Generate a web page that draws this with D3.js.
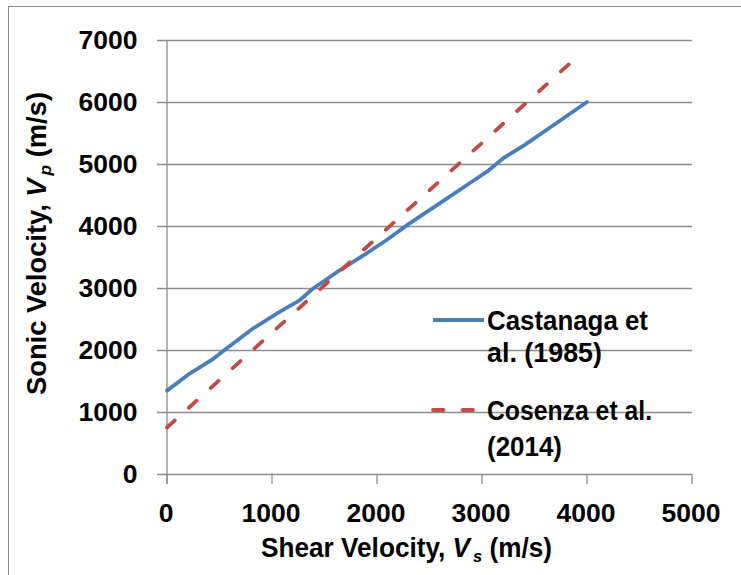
<!DOCTYPE html>
<html><head><meta charset="utf-8">
<script src="https://cdn.jsdelivr.net/npm/d3@7"></script>
<style>
html,body{margin:0;padding:0;background:#fff;}
svg{display:block;}
text{font-family:"Liberation Sans",Arial,sans-serif;font-weight:bold;fill:#000;}
</style></head>
<body>
<svg id="chart" width="741" height="575"></svg>
<script>
// ---- data ----
const xTicks = [0, 1000, 2000, 3000, 4000, 5000];
const yTicks = [0, 1000, 2000, 3000, 4000, 5000, 6000, 7000];
const castagnaVs = [0, 220, 426, 570, 822, 1076, 1267, 1378, 1648, 1902, 2092, 2300, 2600, 2900, 3050, 3200, 3400, 3700, 4000];
const castagnaVp = [1345, 1624, 1839, 2027, 2350, 2618, 2806, 2975, 3290, 3560, 3774, 4030, 4370, 4710, 4880, 5090, 5300, 5650, 6000];
const cosenzaVs = [0, 3920];
const cosenzaVp = [750, 6750];
const seriesNames = [["Castanaga et", "al. (1985)"], ["Cosenza et al.", "(2014)"]];
const seriesColors = ["#4a7ebb", "#be4b48"];

const svg = d3.select("#chart");
const x = d3.scaleLinear().domain([0, 5000]).range([167, 692]);
const y = d3.scaleLinear().domain([0, 7000]).range([474, 40]);
const gridColor = "#8c8c8c";

// outer border
svg.append("rect").attr("x", 8.5).attr("y", 6.5).attr("width", 760).attr("height", 600)
  .attr("fill", "none").attr("stroke", "#8c8c8c").attr("stroke-width", 1);

// horizontal gridlines (with left tick)
svg.append("g").selectAll("line").data(yTicks).join("line")
  .attr("x1", 157).attr("x2", x(5000))
  .attr("y1", d => Math.round(y(d)) + 0.5).attr("y2", d => Math.round(y(d)) + 0.5)
  .attr("stroke", gridColor).attr("stroke-width", 1.3);

// vertical axis line
svg.append("line").attr("x1", x(0)).attr("x2", x(0)).attr("y1", y(7000)).attr("y2", y(0) + 10)
  .attr("stroke", gridColor).attr("stroke-width", 1.3);

// x ticks
svg.append("g").selectAll("line").data(xTicks).join("line")
  .attr("x1", d => x(d)).attr("x2", d => x(d)).attr("y1", y(0)).attr("y2", y(0) + 10)
  .attr("stroke", gridColor).attr("stroke-width", 1.3);

// y tick labels
svg.append("g").selectAll("text").data(yTicks).join("text")
  .attr("x", 137.5).attr("y", d => y(d) + 9)
  .attr("text-anchor", "end").attr("font-size", 26.5)
  .text(d => d);

// x tick labels
svg.append("g").selectAll("text").data(xTicks).join("text")
  .attr("x", d => x(d) - 1).attr("y", 521.5)
  .attr("text-anchor", "middle").attr("font-size", 26.5)
  .text(d => d);

// x axis title
const xt = svg.append("text").attr("x", 261).attr("y", 556.5).attr("font-size", 27)
  .attr("textLength", 291).attr("lengthAdjust", "spacingAndGlyphs");
xt.append("tspan").text("Shear Velocity, ");
xt.append("tspan").attr("font-style", "italic").text("V");
xt.append("tspan").attr("font-style", "italic").attr("font-size", 17).attr("dx", 3).attr("dy", 5).text("s");
xt.append("tspan").attr("dy", -5).text(" (m/s)");

// y axis title
const yt = svg.append("text").attr("transform", "translate(46,395) rotate(-90)")
  .attr("x", 0).attr("y", 0).attr("font-size", 27)
  .attr("textLength", 303).attr("lengthAdjust", "spacingAndGlyphs");
yt.append("tspan").text("Sonic Velocity,  ");
yt.append("tspan").attr("font-style", "italic").text("V");
yt.append("tspan").attr("font-style", "italic").attr("font-size", 17).attr("dx", 3).attr("dy", 5).text("p");
yt.append("tspan").attr("dy", -5).text(" (m/s)");

// lines
const line = d3.line().x(d => x(d[0])).y(d => y(d[1]));
const castagna = castagnaVs.map((v, i) => [v, castagnaVp[i]]);
const cosenza = cosenzaVs.map((v, i) => [v, cosenzaVp[i]]);

svg.append("path").datum(castagna).attr("d", line)
  .attr("fill", "none").attr("stroke", seriesColors[0]).attr("stroke-width", 3.8)
  .attr("stroke-linejoin", "round").attr("stroke-linecap", "round");
svg.append("path").datum(cosenza).attr("d", line)
  .attr("fill", "none").attr("stroke", seriesColors[1]).attr("stroke-width", 3.8)
  .attr("stroke-linecap", "round").attr("stroke-dasharray", "10.5,19");

// legend
const legY = [320, 410];
const legBase = [[330, 362], [420, 456]];
const legW = [[161, 115], [165, 75]];
legY.forEach((ly, i) => {
  svg.append("line").attr("x1", 433).attr("x2", 484).attr("y1", ly).attr("y2", ly)
    .attr("stroke", seriesColors[i]).attr("stroke-width", 3.8)
    .attr("stroke-linecap", i === 1 ? "round" : "butt")
    .attr("stroke-dasharray", i === 1 ? "10.5,19" : null);
  seriesNames[i].forEach((t, j) => {
    svg.append("text").attr("x", 487).attr("y", legBase[i][j]).attr("font-size", 27)
      .attr("textLength", legW[i][j]).attr("lengthAdjust", "spacingAndGlyphs")
      .text(t);
  });
});
</script>
</body></html>
